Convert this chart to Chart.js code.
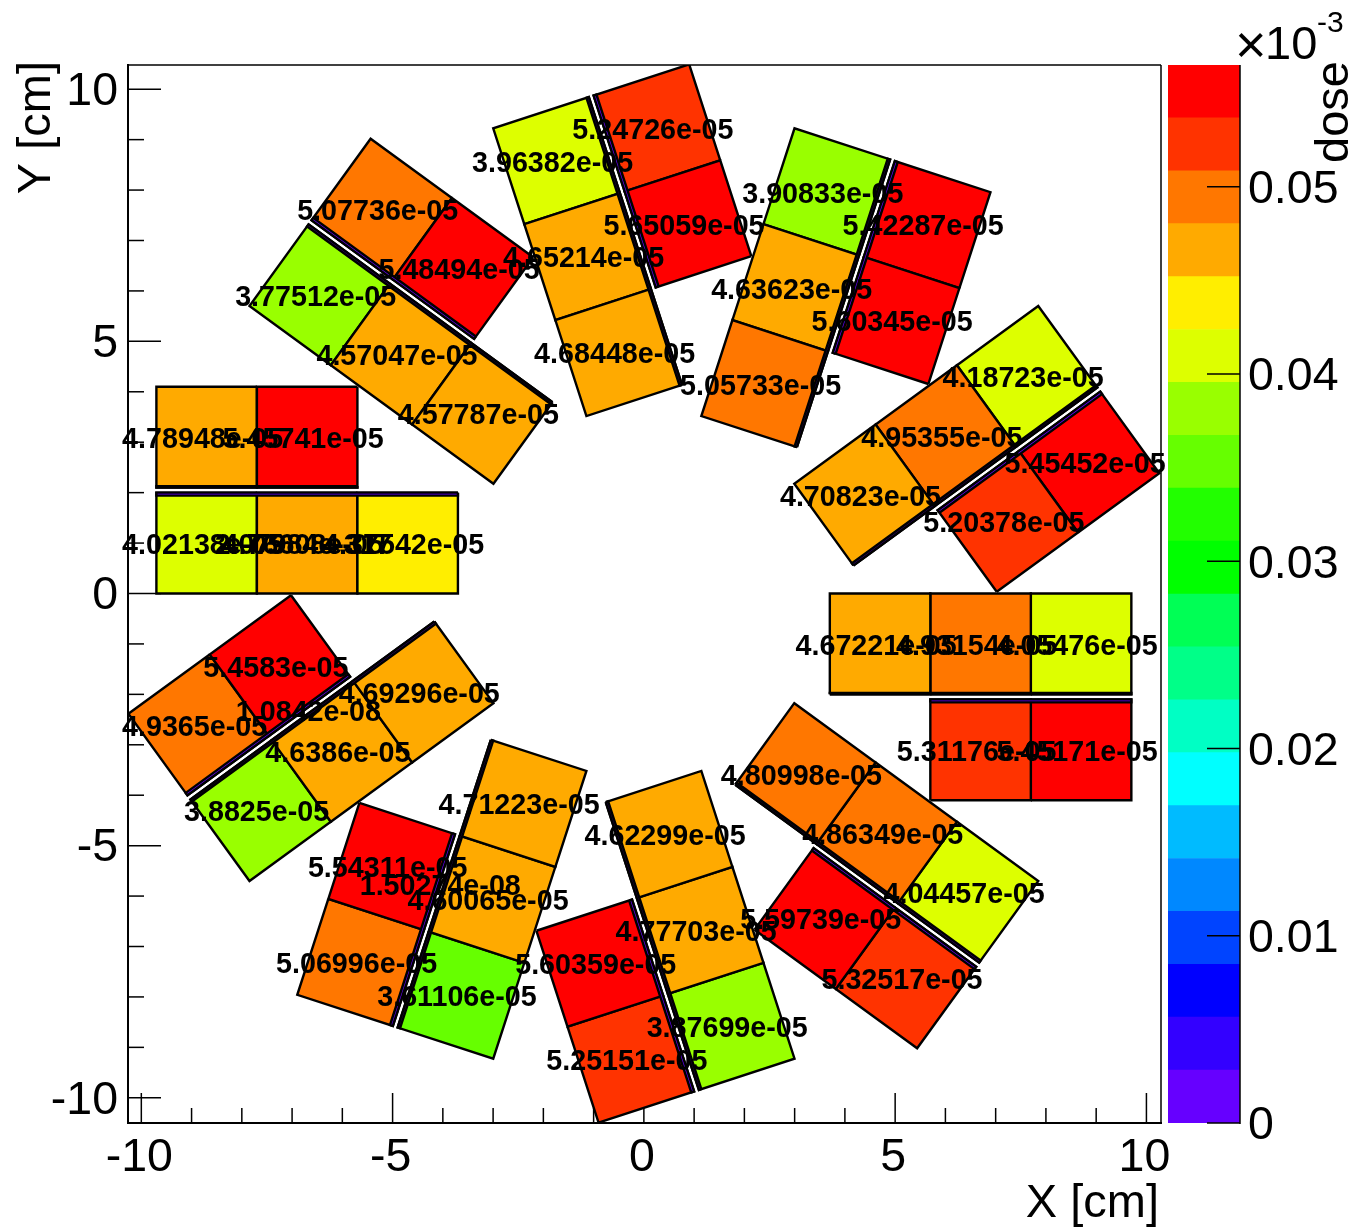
<!DOCTYPE html>
<html lang="en">
<head>
    <meta charset="UTF-8">
    <title>Dose map</title>
    <script src="https://cdn.jsdelivr.net/npm/chart.js"></script>
    <style>
        body { margin: 0; background: #fff; }
        canvas { position: absolute; top: 0; }
        #mapChart { left: 0; }
        #barChart { left: 1160px; }
    </style>
</head>
<body>
    <canvas id="mapChart" width="1354" height="1230"></canvas>
    <canvas id="barChart" width="194" height="1230"></canvas>

    <script>
        // each module is the same layout turned about the origin
        const moduleAngles = [0, 36, 72, 108, 144, 180, 216, 252, 288, 324];

        // long row, inner cell to outer cell
        const longRowValues = [
            [4.67221e-05, 4.93154e-05, 4.05476e-05],
            [4.70823e-05, 4.95355e-05, 4.18723e-05],
            [5.05733e-05, 4.63623e-05, 3.90833e-05],
            [4.68448e-05, 4.65214e-05, 3.96382e-05],
            [4.57787e-05, 4.57047e-05, 3.77512e-05],
            [4.37542e-05, 4.76608e-05, 4.02138e-05],
            [4.69296e-05, 4.6386e-05, 3.8825e-05],
            [4.71223e-05, 4.60065e-05, 3.61106e-05],
            [4.62299e-05, 4.77703e-05, 3.87699e-05],
            [4.80998e-05, 4.86349e-05, 4.04457e-05]
        ];
        // short row, inner cell to outer cell
        const shortRowValues = [
            [5.31176e-05, 5.45171e-05],
            [5.20378e-05, 5.45452e-05],
            [5.60345e-05, 5.42287e-05],
            [5.65059e-05, 5.24726e-05],
            [5.48494e-05, 5.07736e-05],
            [5.45741e-05, 4.78948e-05],
            [5.4583e-05, 4.9365e-05],
            [5.54311e-05, 5.06996e-05],
            [5.60359e-05, 5.25151e-05],
            [5.59739e-05, 5.32517e-05]
        ];
        // thin strip along the long row, only non-empty ones get a label
        const stripValues = [0, 0, 0, 0, 0, 0, 1.0842e-08, 1.50274e-08, 0, 0];

        // cell edges in the frame of the module at angle 0
        const longRowEdgesX = [3.7, 5.7, 7.7, 9.7];
        const shortRowEdgesX = [5.7, 7.7, 9.7];
        const longRowEdgesY = [-2, 0];
        const shortRowEdgesY = [-4.1, -2.1];
        // strip thickness per module
        const longStripWidth = [0.03, 0.05, 0.05, 0.05, 0.05, 0.06, 0.05, 0.05, 0.05, 0.05];
        const shortStripWidth = [0.06, 0.06, 0.06, 0.06, 0.06, 0.03, 0.06, 0.06, 0.06, 0.06];

        const colorLevels = [0, 0.002825, 0.005651, 0.008476, 0.011301, 0.014126, 0.016952,
            0.019777, 0.022602, 0.025428, 0.028253, 0.031078, 0.033904, 0.036729, 0.039554,
            0.042379, 0.045205, 0.04803, 0.050855, 0.053681, 0.056506];
        const palette = ['#6600ff', '#3300ff', '#0000ff', '#0044ff', '#0088ff', '#00bbff', '#00ffff',
            '#00ffc4', '#00ff88', '#00ff55', '#00ff00', '#22ff00', '#66ff00', '#99ff00', '#ddff00',
            '#ffee00', '#ffaa00', '#ff7700', '#ff3300', '#ff0000'];

        // text hidden under the three labels of the 180 degree module
        const extraLabels = [{ module: 5, x: 6.7, y: -1, text: '2.07984e-317' }];

        const FONT = '"Liberation Sans", Arial, sans-serif';

        function colorFor(v) {
            const scaled = v * 1000;
            let band = 0;
            while (band < palette.length - 1 && scaled >= colorLevels[band + 1]) band++;
            return palette[band];
        }

        function formatValue(v) {
            const parts = v.toExponential(5).split('e-');
            return parts[0].replace(/\.?0+$/, '') + 'e-' + parts[1].padStart(2, '0');
        }

        function turn(x, y, angle) {
            const a = angle * Math.PI / 180;
            return {
                x: x * Math.cos(a) - y * Math.sin(a),
                y: x * Math.sin(a) + y * Math.cos(a)
            };
        }

        function quad(x0, x1, y0, y1, angle) {
            return [[x0, y0], [x1, y0], [x1, y1], [x0, y1], [x0, y0]].map(p => turn(p[0], p[1], angle));
        }

        function polygon(points, color) {
            return {
                data: points,
                showLine: true,
                fill: 'shape',
                backgroundColor: color,
                borderColor: '#000',
                borderWidth: 2.4,
                borderJoinStyle: 'miter',
                tension: 0,
                pointRadius: 0,
                pointHoverRadius: 0
            };
        }

        const strips = [];
        const cells = [];
        const cellLabels = [];

        moduleAngles.forEach((angle, m) => {
            const stripColor = palette[0];
            const longEdge = longRowEdgesY[0], shortEdge = shortRowEdgesY[1];
            strips.push(polygon(quad(longRowEdgesX[0], longRowEdgesX[3], longEdge, longEdge + longStripWidth[m], angle), stripColor));
            strips.push(polygon(quad(shortRowEdgesX[0], shortRowEdgesX[2], shortEdge - shortStripWidth[m], shortEdge, angle), stripColor));
            if (stripValues[m] > 0) {
                const c = turn(6.7, -2, angle);
                cellLabels.push({ x: c.x, y: c.y, text: formatValue(stripValues[m]) });
            }
            longRowValues[m].forEach((v, i) => {
                const x0 = longRowEdgesX[i], x1 = longRowEdgesX[i + 1];
                cells.push(polygon(quad(x0, x1, longRowEdgesY[0], longRowEdgesY[1], angle), colorFor(v)));
                const c = turn((x0 + x1) / 2, (longRowEdgesY[0] + longRowEdgesY[1]) / 2, angle);
                cellLabels.push({ x: c.x, y: c.y, text: formatValue(v) });
            });
            shortRowValues[m].forEach((v, i) => {
                const x0 = shortRowEdgesX[i], x1 = shortRowEdgesX[i + 1];
                cells.push(polygon(quad(x0, x1, shortRowEdgesY[0], shortRowEdgesY[1], angle), colorFor(v)));
                const c = turn((x0 + x1) / 2, (shortRowEdgesY[0] + shortRowEdgesY[1]) / 2, angle);
                cellLabels.push({ x: c.x, y: c.y, text: formatValue(v) });
            });
        });
        extraLabels.forEach(l => {
            const c = turn(l.x, l.y, moduleAngles[l.module]);
            cellLabels.push({ x: c.x, y: c.y, text: l.text });
        });

        function drawLine(ctx, x0, y0, x1, y1, width) {
            ctx.lineWidth = width;
            ctx.beginPath();
            ctx.moveTo(x0, y0);
            ctx.lineTo(x1, y1);
            ctx.stroke();
        }

        const mapDecor = {
            id: 'mapDecor',
            beforeDatasetsDraw(chart) {
                const { ctx, scales: { x, y }, chartArea: a } = chart;
                ctx.save();
                ctx.strokeStyle = '#000';
                x.ticks.forEach(t => {
                    const px = x.getPixelForValue(t.value);
                    drawLine(ctx, px, a.bottom, px, a.bottom - (t.value % 5 === 0 ? 30 : 15), 1.5);
                });
                y.ticks.forEach(t => {
                    const py = y.getPixelForValue(t.value);
                    drawLine(ctx, a.left, py, a.left + (t.value % 5 === 0 ? 33 : 16), py, 1.5);
                });
                drawLine(ctx, a.left, a.top, a.right, a.top, 1.5);
                drawLine(ctx, a.right, a.top, a.right, a.bottom, 1.5);
                drawLine(ctx, a.left, a.top - 1, a.left, a.bottom + 1, 2);
                drawLine(ctx, a.left - 1, a.bottom, a.right + 1, a.bottom, 2);
                ctx.restore();
            },
            afterDatasetsDraw(chart) {
                const { ctx, scales: { x, y } } = chart;
                ctx.save();
                ctx.fillStyle = '#000';
                ctx.font = 'bold 28.7px ' + FONT;
                ctx.textAlign = 'center';
                ctx.textBaseline = 'middle';
                cellLabels.forEach(l => {
                    ctx.fillText(l.text, x.getPixelForValue(l.x) - 4, y.getPixelForValue(l.y) + 3);
                });
                // axis titles
                ctx.font = '47px ' + FONT;
                ctx.textAlign = 'right';
                ctx.textBaseline = 'alphabetic';
                ctx.fillText('X [cm]', 1159, 1217);
                ctx.translate(50, 61);
                ctx.rotate(-Math.PI / 2);
                ctx.fillText('Y [cm]', 0, 0);
                ctx.restore();
            }
        };

        const barDecor = {
            id: 'barDecor',
            afterDatasetsDraw(chart) {
                const { ctx, scales: { y }, chartArea: a } = chart;
                ctx.save();
                ctx.strokeStyle = '#000';
                drawLine(ctx, a.right, a.top, a.right, a.bottom + 1, 1.5);
                y.ticks.forEach(t => {
                    const py = y.getPixelForValue(t.value);
                    drawLine(ctx, a.right - 33, py, a.right, py, 1.5);
                });
                ctx.fillStyle = '#000';
                ctx.textBaseline = 'alphabetic';
                ctx.font = '54px ' + FONT;
                ctx.fillText('\u00d7', 75, 63);
                ctx.font = '47px ' + FONT;
                ctx.fillText('10', 105, 59);
                ctx.font = '30px ' + FONT;
                ctx.fillText('-3', 157, 32);
                ctx.translate(188, 61);
                ctx.rotate(-Math.PI / 2);
                ctx.textAlign = 'right';
                ctx.font = '47px ' + FONT;
                ctx.fillText('dose', 0, 0);
                ctx.restore();
            }
        };

        const tickFont = { family: FONT, size: 46.5 };

        new Chart(document.getElementById('mapChart'), {
            type: 'scatter',
            data: { datasets: strips.concat(cells) },
            plugins: [mapDecor],
            options: {
                responsive: false,
                animation: false,
                layout: { padding: { top: 65, right: 193, left: 0, bottom: 0 } },
                plugins: { legend: { display: false }, tooltip: { enabled: false } },
                scales: {
                    x: {
                        type: 'linear',
                        min: -10.265,
                        max: 10.29,
                        grid: { display: false, drawTicks: false },
                        border: { display: false },
                        afterFit(scale) { scale.height = 107; },
                        ticks: {
                            stepSize: 1, includeBounds: false, autoSkip: false, maxRotation: 0,
                            color: '#000', font: tickFont, padding: 7, labelOffset: -2,
                            callback: v => v % 5 === 0 ? String(v) : ''
                        }
                    },
                    y: {
                        type: 'linear',
                        min: -10.5,
                        max: 10.48,
                        grid: { display: false, drawTicks: false },
                        border: { display: false },
                        afterFit(scale) { scale.width = 128; },
                        ticks: {
                            stepSize: 1, includeBounds: false, autoSkip: false,
                            color: '#000', font: tickFont, padding: 10, labelOffset: 3,
                            callback: v => v % 5 === 0 ? String(v) : ''
                        }
                    }
                }
            }
        });

        new Chart(document.getElementById('barChart'), {
            type: 'bar',
            data: {
                labels: [''],
                datasets: palette.map((color, i) => ({
                    data: [[colorLevels[i], colorLevels[i + 1]]],
                    backgroundColor: color,
                    borderWidth: 0,
                    grouped: false,
                    barPercentage: 1,
                    categoryPercentage: 1
                }))
            },
            plugins: [barDecor],
            options: {
                responsive: false,
                animation: false,
                layout: { padding: { top: 65, left: 8, right: 0, bottom: 107 } },
                plugins: { legend: { display: false }, tooltip: { enabled: false } },
                scales: {
                    x: { display: false },
                    y: {
                        position: 'right',
                        min: 0,
                        max: 0.056506,
                        grid: { display: false, drawTicks: false },
                        border: { display: false },
                        afterFit(scale) { scale.width = 114; },
                        ticks: {
                            stepSize: 0.01, includeBounds: false, autoSkip: false,
                            color: '#000', font: tickFont, padding: 8, labelOffset: 3.5,
                            callback: v => v === 0 ? '0' : v.toFixed(2)
                        }
                    }
                }
            }
        });
    </script>
</body>
</html>
